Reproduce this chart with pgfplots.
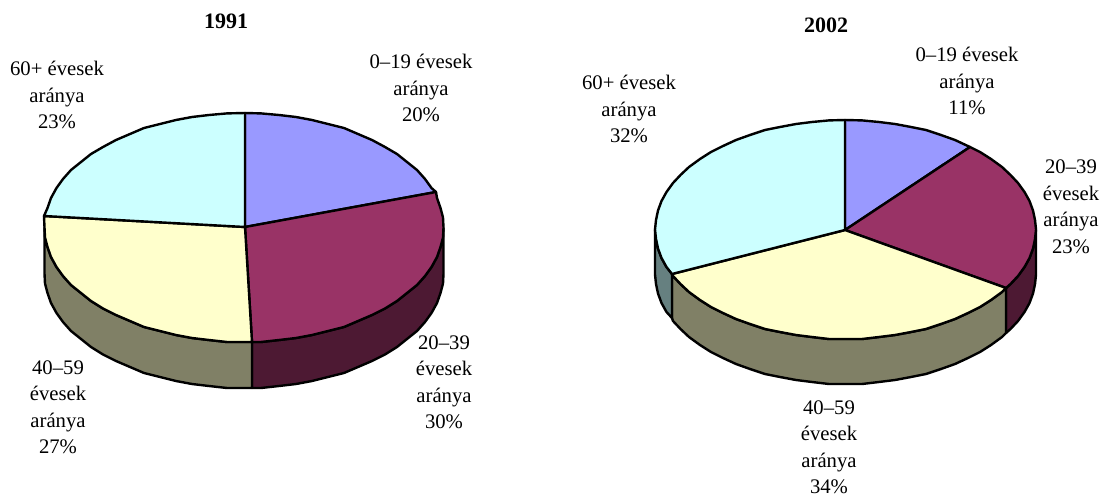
\documentclass[border=0pt]{standalone}
\usepackage{fontspec}
\setmainfont{Liberation Serif}
\usepackage{pgfplots}
\pgfplotsset{compat=1.18}
\definecolor{kek}{HTML}{9999FF}
\definecolor{bordo}{HTML}{993366}
\definecolor{sarga}{HTML}{FFFFCC}
\definecolor{cian}{HTML}{CCFFFF}
\definecolor{bordosotet}{HTML}{4D1933}
\definecolor{sargasotet}{HTML}{808066}
\definecolor{ciansotet}{HTML}{668080}
\pgfplotsset{
    szelet/.style={fill=#1, draw=black, line width=2.4pt, line join=round, mark=none}
}
\tikzset{
    felirat/.style={align=center, inner sep=0pt, font=\fontsize{20.7}{26.5}\selectfont}
}
\begin{document}
\begin{tikzpicture}
\begin{axis}[
    scale only axis,
    width=1107pt,
    height=500pt,
    xmin=0, xmax=1107,
    ymin=0, ymax=500,
    y dir=reverse,
    hide axis,
    clip=false
]

% a hide axis miatt a kep meretet ez tartja
\addplot[draw=none, mark=none, forget plot] coordinates {(0,0) (1107,500)};

% 1991 - oldalfalak
\addplot[szelet=bordosotet] coordinates {
(443.5,227.5) (443,237.5) (440.5,247) (437,257) (431.5,267) (425,276) (417,285) (407,293) (397,301)
(385,308.5) (372,315) (358,321) (344,327) (328,331) (312,335) (296,338) (279,340) (261,342) (252,342)
(252,388) (261,388) (279,386) (296,384) (312,381) (328,377) (344,373) (358,367) (372,361) (385,354.5)
(397,347) (407,339) (417,331) (425,322) (431.5,313) (437,303) (440.5,293) (443,283.5) (443.5,273.5)
(443.5,227.5)
};
\addplot[szelet=sargasotet] coordinates {
(252,342) (244,342) (227,342) (209,340) (192,338) (176,335) (160,331) (144,327) (130,321) (116,315)
(103,308.5) (91,301) (81,293) (71,285) (63,276) (56.5,267) (51,257) (47.5,247) (45,237.5) (44.5,227.5)
(44.5,273.5) (45,283.5) (47.5,293) (51,303) (56.5,313) (63,322) (71,331) (81,339) (91,347) (103,354.5)
(116,361) (130,367) (144,373) (160,377) (176,381) (192,384) (209,386) (227,388) (244,388) (252,388)
(252,342)
};

% 1991 - szeletek: 20, 30, 27, 23 %
\addplot[szelet=kek] coordinates {
(245,227) (245,113) (261,113.4) (279,115) (296,117) (312,120) (328,124) (344,128) (358,134) (372,140)
(385,147) (397,154) (407,162) (417,170) (425,179) (431.5,188) (436,192) (245,227)
};
\addplot[szelet=bordo] coordinates {
(245,227) (436,192) (437,198) (440.5,208) (443,217.5) (443.5,227.5) (443,237.5) (440.5,247) (437,257)
(431.5,267) (425,276) (417,285) (407,293) (397,301) (385,308.5) (372,315) (358,321) (344,327) (328,331)
(312,335) (296,338) (279,340) (261,342) (252,342) (245,227)
};
\addplot[szelet=sarga] coordinates {
(245,227) (252,342) (244,342) (227,342) (209,340) (192,338) (176,335) (160,331) (144,327) (130,321)
(116,315) (103,308.5) (91,301) (81,293) (71,285) (63,276) (56.5,267) (51,257) (47.5,247) (45,237.5)
(44.5,227.5) (44,216) (245,227)
};
\addplot[szelet=cian] coordinates {
(245,227) (44,216) (47.5,208) (51,198) (56.5,188) (63,179) (71,170) (81,162) (91,154) (103,147) (116,140)
(130,134) (144,128) (160,124) (176,120) (192,117) (209,115) (227,113.4) (245,113) (245,227)
};

% 2002 - oldalfalak
\addplot[szelet=bordosotet] coordinates {
(1036,229.5) (1035,239) (1033,248.5) (1029.5,258) (1024.5,267) (1018,276) (1010.5,284) (1006,288)
(1006,333) (1010.5,329) (1018,321) (1024.5,312) (1029.5,303) (1033,293.5) (1035,284) (1036,274.5)
(1036,229.5)
};
\addplot[szelet=sargasotet] coordinates {
(1006,288) (1002,292) (991,300) (980,307) (968,313) (955,319) (941,324) (926,329) (911,332) (895,335)
(879,337) (862,339) (845.5,339) (829,339) (812,337) (796,335) (780,332) (765,329) (750,324) (736,319)
(723,313) (711,307) (700,300) (689,292) (680.5,284) (673,276) (672,274)
(672,318) (673,321) (680.5,329) (689,337) (700,345) (711,352) (723,358) (736,364) (750,369) (765,374)
(780,377) (796,380) (812,382) (829,384) (845.5,384) (862,384) (879,382) (895,380) (911,377) (926,374)
(941,369) (955,364) (968,358) (980,352) (991,345) (1002,337) (1006,333) (1006,288)
};
\addplot[szelet=ciansotet] coordinates {
(672,274) (666.5,267) (661.5,258) (658,248.5) (656,239) (655,229.5) (655,274.5) (656,284) (658,293.5)
(661.5,303) (666.5,312) (672,318) (672,274)
};

% 2002 - szeletek: 11, 23, 34, 32 %
\addplot[szelet=kek] coordinates {
(845,230) (845,120) (862,120.4) (879,122) (895,124) (911,127) (926,130) (941,135) (955,140) (970,147) (845,230)
};
\addplot[szelet=bordo] coordinates {
(845,230) (970,147) (980,152) (991,159) (1002,167) (1010.5,175) (1018,183) (1024.5,192) (1029.5,201)
(1033,210.5) (1035,220) (1036,229.5) (1035,239) (1033,248.5) (1029.5,258) (1024.5,267) (1018,276)
(1010.5,284) (1006,288) (845,230)
};
\addplot[szelet=sarga] coordinates {
(845,230) (1006,288) (1002,292) (991,300) (980,307) (968,313) (955,319) (941,324) (926,329) (911,332)
(895,335) (879,337) (862,339) (845.5,339) (829,339) (812,337) (796,335) (780,332) (765,329) (750,324)
(736,319) (723,313) (711,307) (700,300) (689,292) (680.5,284) (673,276) (672,274) (845,230)
};
\addplot[szelet=cian] coordinates {
(845,230) (672,274) (666.5,267) (661.5,258) (658,248.5) (656,239) (655,229.5) (656,220) (658,210.5)
(661.5,201) (666.5,192) (673,183) (680.5,175) (689,167) (700,159) (711,152) (723,146) (736,140) (750,135)
(765,130) (780,127) (796,124) (812,122) (829,120.4) (845,120) (845,230)
};

% Feliratok
\node[felirat, font=\fontsize{22}{26.5}\selectfont\bfseries] at (axis cs:226,21) {1991};
\node[felirat, font=\fontsize{22}{26.5}\selectfont\bfseries] at (axis cs:826,25) {2002};
\node[felirat] at (axis cs:421,88) {0–19 évesek\\aránya\\20\%};
\node[felirat] at (axis cs:57,95) {60+ évesek\\aránya\\23\%};
\node[felirat] at (axis cs:444,382) {20–39\\évesek\\aránya\\30\%};
\node[felirat] at (axis cs:58,407) {40–59\\évesek\\aránya\\27\%};
\node[felirat] at (axis cs:967,81) {0–19 évesek\\aránya\\11\%};
\node[felirat] at (axis cs:629,109) {60+ évesek\\aránya\\32\%};
\node[felirat] at (axis cs:1071,207) {20–39\\évesek\\aránya\\23\%};
\node[felirat] at (axis cs:829,447) {40–59\\évesek\\aránya\\34\%};

\end{axis}
\end{tikzpicture}
\end{document}
